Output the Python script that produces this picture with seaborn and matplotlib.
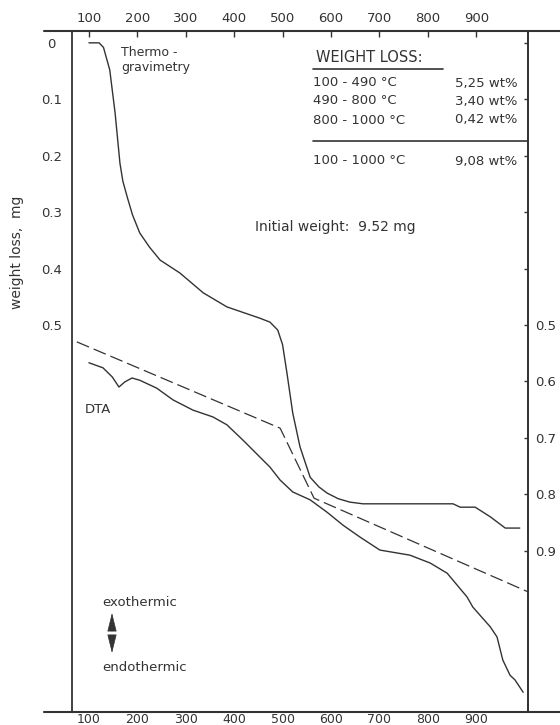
import numpy as np
import seaborn as sns
import matplotlib
matplotlib.use("Agg")
import matplotlib.pyplot as plt
from matplotlib.lines import Line2D

# thermogravimetry curve (temperature in deg C, weight loss in mg)
tg_temp = [100, 121, 130, 143, 154, 164, 170, 179, 190, 205, 225, 247, 288, 336,
           385, 453, 474, 490, 500, 509, 521, 536, 557, 575, 592, 615, 639, 666,
           852, 867, 898, 929, 960, 990]
tg_loss = [0.0, 0.0, 0.008, 0.048, 0.124, 0.213, 0.245, 0.273, 0.305, 0.337, 0.362,
           0.385, 0.408, 0.443, 0.468, 0.488, 0.495, 0.509, 0.535, 0.585, 0.656,
           0.716, 0.770, 0.787, 0.798, 0.808, 0.814, 0.817, 0.817, 0.823, 0.823,
           0.840, 0.860, 0.860]

# DTA trace, drawn on the same vertical scale
dta_temp = [100, 129, 148, 162, 174, 189, 205, 240, 274, 315, 356, 385, 418, 453,
            474, 495, 521, 557, 592, 625, 660, 701, 763, 805, 840, 881, 893, 929,
            943, 955, 970, 980, 997]
dta_signal = [0.567, 0.576, 0.592, 0.610, 0.601, 0.594, 0.598, 0.612, 0.633, 0.651,
              0.663, 0.677, 0.704, 0.734, 0.752, 0.775, 0.796, 0.810, 0.832, 0.855,
              0.876, 0.899, 0.908, 0.922, 0.940, 0.982, 1.000, 1.035, 1.053, 1.094,
              1.121, 1.129, 1.151]

# DTA baseline (dashed)
base_temp = [75, 495, 565, 1007]
base_signal = [0.530, 0.683, 0.807, 0.973]

temp_ticks = [100, 200, 300, 400, 500, 600, 700, 800, 900]
left_ticks = [0.0, 0.1, 0.2, 0.3, 0.4, 0.5]
right_ticks = [0.0, 0.1, 0.2, 0.3, 0.4, 0.5, 0.6, 0.7, 0.8, 0.9]
right_labels = ["", "", "", "", "", "0.5", "0.6", "0.7", "0.8", "0.9"]

loss_ranges = ["100 - 490 °C", "490 - 800 °C", "800 - 1000 °C"]
loss_values = ["5,25 wt%", "3,40 wt%", "0,42 wt%"]
total_range = "100 - 1000 °C"
total_value = "9,08 wt%"

INK = "#333333"
W, H = 560, 725


def fx(px):
    return (px - 72) / 456


def fy(py):
    return 1 - (py - 31) / 681


sns.set_style("white")
plt.rcParams['font.family'] = ['DejaVu Sans']
plt.rcParams['text.color'] = INK
plt.rcParams['lines.scale_dashes'] = False

fig = plt.figure(figsize=(W / 100, H / 100), dpi=100)
ax = fig.add_axes([72 / W, 1 - 712 / H, 456 / W, 681 / H])

sns.lineplot(x=tg_temp, y=tg_loss, ax=ax, color=INK, lw=1.0, estimator=None)
sns.lineplot(x=dta_temp, y=dta_signal, ax=ax, color=INK, lw=1.0, estimator=None)
sns.lineplot(x=base_temp, y=base_signal, ax=ax, color=INK, lw=0.9, estimator=None,
             linestyle=(0, (9.5, 3.6)))

ax.set_xlim(65, 1007)
ax.set_ylim(1.186, -0.021)

# bottom temperature axis
ax.set_xticks(temp_ticks)
ax.set_xticklabels([str(t) for t in temp_ticks])
ax.tick_params(axis='x', direction='in', length=4, width=1, colors=INK,
               labelsize=9, pad=0.5)

# top temperature axis
top = ax.secondary_xaxis('top')
top.set_xticks(temp_ticks)
top.set_xticklabels([str(t) for t in temp_ticks])
top.tick_params(axis='x', direction='in', length=4, width=1, colors=INK,
                labelsize=9.5, pad=4.5)
top.spines['top'].set_visible(False)

# left y labels
ax.set_yticks(left_ticks)
ax.set_yticklabels(["0"] + ["%.1f" % v for v in left_ticks[1:]])
ax.tick_params(axis='y', direction='in', length=4, width=1, colors=INK,
               labelsize=9.5, pad=15)
for lab in ax.get_yticklabels():
    lab.set_horizontalalignment('center')

sec = ax.secondary_yaxis('right')
sec.set_yticks(right_ticks)
sec.set_yticklabels(right_labels)
sec.tick_params(axis='y', direction='in', length=3, width=1, colors=INK,
                labelsize=9.5, pad=13)
for lab in sec.get_yticklabels():
    lab.set_horizontalalignment('center')
sec.spines['right'].set_linewidth(1.3)
sec.spines['right'].set_color(INK)

for side in ['top', 'bottom']:
    ax.spines[side].set_visible(False)
for side in ['left', 'right']:
    ax.spines[side].set_linewidth(1.3)
    ax.spines[side].set_color(INK)

# long frame lines above and below the plot
for py in [31, 712]:
    fig.add_artist(Line2D([44 / W, 1.0], [1 - py / H, 1 - py / H],
                          color=INK, lw=1.5, transform=fig.transFigure))

ax.set_ylabel("weight loss,  mg", fontsize=10, color=INK, va='center')
ax.yaxis.set_label_coords(fx(17), fy(252))

tr = ax.transAxes
ax.text(fx(121), fy(52), "Thermo -", transform=tr, fontsize=9, va='center')
ax.text(fx(121), fy(68), "gravimetry", transform=tr, fontsize=9, va='center')

ax.text(fx(316), fy(57), "WEIGHT LOSS:", transform=tr, fontsize=10.5, va='center')
ax.plot([fx(313), fx(443)], [fy(69), fy(69)], transform=tr, color=INK, lw=1.2)
row_y = [83, 101, 120]
for r, v, py in zip(loss_ranges, loss_values, row_y):
    ax.text(fx(313), fy(py), r, transform=tr, fontsize=9.5, va='center')
    ax.text(fx(455), fy(py), v, transform=tr, fontsize=9.5, va='center')
ax.plot([fx(313), fx(528)], [fy(141), fy(141)], transform=tr, color=INK, lw=1.2)
ax.text(fx(313), fy(161), total_range, transform=tr, fontsize=9.5, va='center')
ax.text(fx(455), fy(161), total_value, transform=tr, fontsize=9.5, va='center')

ax.text(fx(255), fy(227), "Initial weight:  9.52 mg", transform=tr, fontsize=10,
        va='center')
ax.text(fx(85), fy(409), "DTA", transform=tr, fontsize=9.5, va='center')

ax.text(fx(102), fy(602), "exothermic", transform=tr, fontsize=9.5, va='center')
ax.text(fx(102), fy(667), "endothermic", transform=tr, fontsize=9.5, va='center')
arrow = dict(arrowstyle='-|>,head_length=1.2,head_width=0.3', color=INK,
             shrinkA=0, shrinkB=0, lw=0.5)
ax.annotate("", xy=(fx(112), fy(613)), xytext=(fx(112), fy(631)),
            xycoords=tr, textcoords=tr, arrowprops=arrow)
ax.annotate("", xy=(fx(112), fy(653)), xytext=(fx(112), fy(635)),
            xycoords=tr, textcoords=tr, arrowprops=arrow)

fig.savefig("out.png", dpi=100)
